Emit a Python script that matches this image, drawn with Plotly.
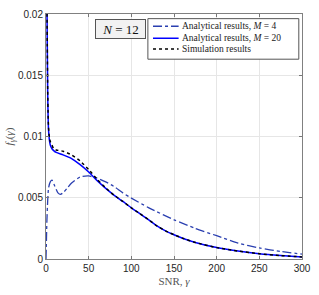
import plotly.graph_objects as go

# SNR grid (gamma) and pdf values
gamma_m4 = [0, 0.5, 1, 2, 3, 5, 7, 10, 14, 17, 20, 25, 30, 40, 50, 60, 70, 80, 90, 100,
            120, 150, 175, 200, 225, 250, 275, 300]
pdf_m4 = [0.0, 0.0015, 0.003, 0.0048, 0.0058, 0.0063, 0.00644, 0.0060, 0.0054, 0.00528,
          0.0054, 0.0058, 0.0062, 0.0067, 0.00678, 0.0066, 0.0063, 0.0059, 0.0054, 0.00497,
          0.0042, 0.0032, 0.0025, 0.0019, 0.0013, 0.0009, 0.00062, 0.0004]

gamma_m20 = [0.3, 0.7, 1, 1.5, 2, 2.5, 3, 4, 5, 7, 9, 12, 20, 30, 40, 50, 60, 70, 80, 90,
             100, 110, 120, 130, 140, 150, 160, 175, 200, 225, 250, 275, 300]
pdf_m20 = [0.045, 0.03, 0.022, 0.0175, 0.0135, 0.0115, 0.0105, 0.0097, 0.0093, 0.0090,
           0.00885, 0.0087, 0.0085, 0.0082, 0.0077, 0.0071, 0.0064, 0.00577, 0.0052, 0.0047,
           0.00418, 0.0037, 0.00322, 0.0027, 0.0023, 0.00198, 0.0017, 0.00135, 0.00093,
           0.00065, 0.00043, 0.00028, 0.00017]

gamma_sim = [0.3, 0.7, 1, 1.5, 2, 2.5, 3, 4, 5, 7, 9, 12, 20, 30, 40, 50, 60, 70, 80, 90,
             100, 110, 120, 130, 140, 150, 160, 175, 200, 225, 250, 275, 300]
pdf_sim = [0.045, 0.03, 0.022, 0.0176, 0.0137, 0.0117, 0.0107, 0.0099, 0.0096, 0.0093,
           0.0090, 0.0089, 0.0088, 0.0085, 0.0080, 0.0073, 0.0065, 0.0058, 0.0052, 0.0047,
           0.00418, 0.0037, 0.00322, 0.0027, 0.0023, 0.00198, 0.0017, 0.00135, 0.00093,
           0.00065, 0.00043, 0.00028, 0.00017]

series_names = ["Analytical results, <i>M</i> = 4",
                "Analytical results, <i>M</i> = 20",
                "Simulation results"]
series_colors = ["#2a3fb0", "#0000ff", "#000000"]
series_dash = ["dashdot", "solid", "dot"]
series_width = [1.3, 1.5, 1.5]

x_ticks = [0, 50, 100, 150, 200, 250, 300]
y_ticks = [0, 0.005, 0.01, 0.015, 0.02]
y_tick_text = ["0", "0.005", "0.01", "0.015", "0.02"]

serif = "'Liberation Serif', 'DejaVu Serif', serif"
sans = "'Liberation Sans', Arial, sans-serif"

fig = go.Figure()
data = [(gamma_m4, pdf_m4, 0.6), (gamma_m20, pdf_m20, 0.5), (gamma_sim, pdf_sim, 0.5)]
for i, (gx, gy, sm) in enumerate(data):
    fig.add_trace(go.Scatter(
        x=gx, y=gy, mode="lines", name=series_names[i], showlegend=False,
        line=dict(color=series_colors[i], width=series_width[i], dash=series_dash[i],
                  shape="spline", smoothing=sm),
    ))

# compact legend (box, line samples, labels)
leg_x0, leg_x1, leg_y0, leg_y1 = 0.398, 0.9875, 0.8155, 0.981
row_y = [0.950, 0.901, 0.857]
fig.add_shape(type="rect", xref="paper", yref="paper", x0=leg_x0, x1=leg_x1, y0=leg_y0, y1=leg_y1,
              line=dict(color="#555555", width=1), fillcolor="white", layer="above")
for i in range(3):
    fig.add_shape(type="line", xref="paper", yref="paper", x0=0.418, x1=0.518,
                  y0=row_y[i], y1=row_y[i],
                  line=dict(color=series_colors[i], width=series_width[i], dash=series_dash[i]),
                  layer="above")
    fig.add_annotation(x=0.524, y=row_y[i], xref="paper", yref="paper", xanchor="left",
                       yanchor="middle", text=series_names[i], showarrow=False,
                       font=dict(family=serif, size=9.5, color="#222222"))

fig.add_annotation(
    x=0.2917, y=0.939, xref="paper", yref="paper", xanchor="center", yanchor="middle",
    text="<i>N</i> = 12", showarrow=False, width=47, height=16,
    font=dict(family=serif, size=13, color="#111111"),
    bgcolor="#f2f2f2", bordercolor="#555555", borderwidth=1, borderpad=1,
)

fig.update_layout(
    width=319, height=295,
    margin=dict(l=45, r=10, t=8, b=36),
    paper_bgcolor="white", plot_bgcolor="white",
    showlegend=False,
    font=dict(family=sans, size=10, color="#262626"),
)
fig.update_xaxes(
    range=[0, 300], tickvals=x_ticks, ticks="inside", ticklen=3,
    tickcolor="#777777", showline=True, linecolor="#808080", linewidth=1, mirror="ticks",
    showgrid=True, gridcolor="#e6e6e6", zeroline=False,
    tickfont=dict(family=sans, size=10, color="#262626"),
    title=dict(text="SNR, <i>γ</i>", font=dict(family=serif, size=11, color="#555555"), standoff=4),
)
fig.update_yaxes(
    range=[0, 0.02], tickvals=y_ticks, ticktext=y_tick_text, ticks="inside", ticklen=3,
    tickcolor="#777777", showline=True, linecolor="#808080", linewidth=1, mirror="ticks",
    showgrid=True, gridcolor="#e6e6e6", zeroline=False,
    tickfont=dict(family=sans, size=10, color="#262626"),
    title=dict(text="<i>f</i><sub><i>γ</i></sub>(<i>γ</i>)",
               font=dict(family=serif, size=11, color="#555555"), standoff=2),
)

fig.write_html("out.html", config={"displayModeBar": False},
               post_script="document.body.style.margin='0';")
